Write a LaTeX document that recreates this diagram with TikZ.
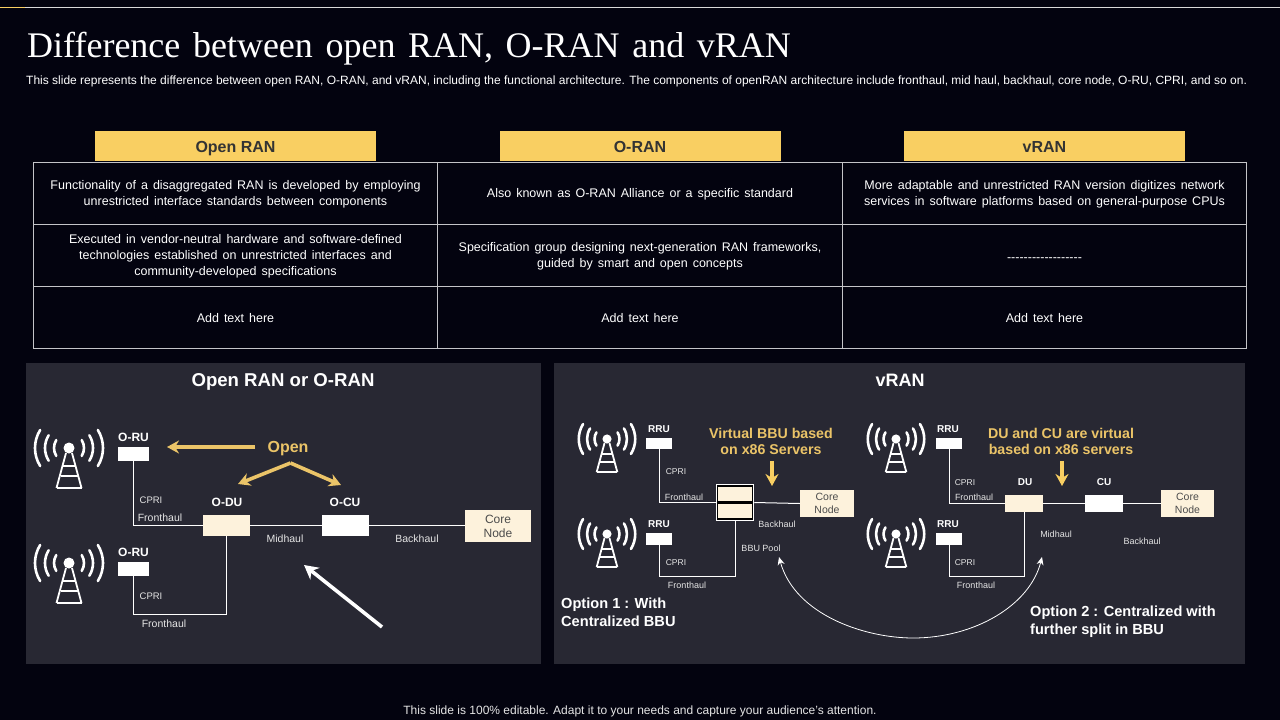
\documentclass[tikz,border=0pt]{standalone}
\usepackage{fontspec}
\setmainfont{Liberation Sans}
\newfontfamily\titlefont[WordSpace=1.4]{Liberation Serif}
\usepackage{xcolor}
\usetikzlibrary{arrows.meta}

\definecolor{slidebg}{HTML}{03030F}
\definecolor{panelbg}{HTML}{282833}
\definecolor{headgold}{HTML}{F9CF62}
\definecolor{textgold}{HTML}{EBC468}
\definecolor{cream}{HTML}{FDF2DC}
\definecolor{gridline}{HTML}{C4C4C8}

\newcommand{\fs}[1]{\fontsize{#1}{#1}\selectfont}
\newcommand{\cellstart}{\spaceskip=5pt\relax\rule{0pt}{12pt}}

\tikzset{
    headbox/.style={fill=headgold, text=black!80, font=\fs{16}\bfseries, minimum width=281, minimum height=30, inner sep=0, text height=13.5pt, text depth=0pt},
    cellbox/.style={draw=gridline, line width=1pt, text=white, font=\fontsize{12.5}{16}\selectfont, minimum width=404.5, minimum height=62, text width=392, align=center, inner sep=0},
    whitebox/.style={fill=white, inner sep=0},
    creambox/.style={fill=cream, inner sep=0},
    corebox/.style={fill=cream, text=black!70, align=center, inner sep=0, font=\fontsize{#1}{13.5}\selectfont},
    wire/.style={draw=white, line width=1pt},
    unitlabel/.style={text=white, font=\fs{#1}\bfseries, inner sep=0},
    smalllabel/.style={text=white!90!black, font=\fs{#1}, inner sep=0},
    paneltitle/.style={text=white, font=\fs{18.6}\bfseries, inner sep=0},
    goldtext/.style={text=textgold, font=\fontsize{14.2}{16}\selectfont\bfseries, align=center, inner sep=0},
    optiontext/.style={text=white, font=\fontsize{14.6}{18}\selectfont\bfseries, align=left, anchor=west, inner sep=0},
    goldarrow/.style={draw=textgold, line width=3.6pt, -{Stealth[length=12pt, width=13pt]}},
    mast/.pic={
        \foreach \rad in {15, 24, 34} {
            \draw[white, line width=2.6pt, line cap=round] (-32:\rad) arc[start angle=-32, end angle=32, radius=\rad];
            \draw[white, line width=2.6pt, line cap=round] (148:\rad) arc[start angle=148, end angle=212, radius=\rad];
        }
        \fill[white] (0,0) circle (5.5);
        \draw[white, line width=1.8pt] (-3,5) -- (-12.5,40);
        \draw[white, line width=1.8pt] (3,5) -- (12.5,40);
        \draw[white, line width=1.8pt] (-6,18) -- (6,18);
        \draw[white, line width=1.8pt] (-8.5,28) -- (8.5,28);
        \draw[white, line width=1.8pt] (-12.5,40) -- (12.5,40);
    }
}

\begin{document}
\begin{tikzpicture}[x=1pt, y=-1pt]
    \useasboundingbox (0,0) rectangle (1280,720);
    \fill[slidebg] (0,0) rectangle (1280,720);
    \draw[white!85!black, line width=0.8pt] (0,7) -- (1280,7);
    \draw[headgold, line width=0.8pt] (0,7) -- (25,7);

    \node[anchor=west, text=white, inner sep=0, font=\titlefont\fs{36}] (title) at (27,49) {Difference between open RAN, O-RAN and vRAN};
    \node[anchor=west, text=white, inner sep=0, font=\fs{12}] (subtitle) at (26,81) {This slide represents the difference between open RAN, O-RAN, and vRAN, including the functional architecture. The components of openRAN architecture include fronthaul, mid haul, backhaul, core node, O-RU, CPRI, and so on.};

    % table
    \node[headbox] (headopen) at (235.5,146) {Open RAN};
    \node[headbox] (headoran) at (640,146) {O-RAN};
    \node[headbox] (headvran) at (1044.5,146) {vRAN};

    \node[cellbox] (cella1) at (235.5,193) {\cellstart Functionality of a disaggregated RAN is developed by employing\\unrestricted interface standards between components};
    \node[cellbox] (cellb1) at (640,193) {\cellstart Also known as O-RAN Alliance or a specific standard};
    \node[cellbox] (cellc1) at (1044.5,193) {\cellstart More adaptable and unrestricted RAN version digitizes network\\services in software platforms based on general-purpose CPUs};
    \node[cellbox] (cella2) at (235.5,255) {\cellstart Executed in vendor-neutral hardware and software-defined\\technologies established on unrestricted interfaces and\\community-developed specifications};
    \node[cellbox] (cellb2) at (640,255) {\cellstart Specification group designing next-generation RAN frameworks,\\guided by smart and open concepts};
    \node[cellbox] (cellc2) at (1044.5,255) {\cellstart -{}-{}-{}-{}-{}-{}-{}-{}-{}-{}-{}-{}-{}-{}-{}-{}-{}-{}};
    \node[cellbox] (cella3) at (235.5,317) {\cellstart Add text here};
    \node[cellbox] (cellb3) at (640,317) {\cellstart Add text here};
    \node[cellbox] (cellc3) at (1044.5,317) {\cellstart Add text here};

    % left panel
    \fill[panelbg] (26,363) rectangle (541,664);
    \node[paneltitle] (lefttitle) at (283,382) {Open RAN or O-RAN};

    \pic at (69,448) {mast};
    \pic at (69,563) {mast};

    \node[whitebox, minimum width=31, minimum height=14] (oru1) at (133.5,454) {};
    \node[whitebox, minimum width=31, minimum height=14] (oru2) at (133.5,569) {};
    \node[creambox, minimum width=47, minimum height=21] (odu) at (226.5,525.5) {};
    \node[whitebox, minimum width=47, minimum height=21] (ocu) at (345.5,525.5) {};
    \node[corebox=12, minimum width=66, minimum height=32] (core1) at (498,525.5) {\rule{0pt}{10.5pt}Core\\Node};
    \coordinate (bendleft) at (133.5,614);

    \draw[wire] (oru1.south) |- (odu.west);
    \draw[wire] (odu.east) -- (ocu.west);
    \draw[wire] (ocu.east) -- (core1.west);
    \draw[wire] (odu.south) |- (bendleft) -- (oru2.south);

    \node[unitlabel=12] (lblru1) at (133.5,437) {O-RU};
    \node[unitlabel=12] (lblru2) at (133.5,552) {O-RU};
    \node[unitlabel=12] (lbldu) at (227,502) {O-DU};
    \node[unitlabel=12] (lblcu) at (345,502) {O-CU};
    \node[smalllabel=9.5] (cpri1) at (151,500) {CPRI};
    \node[smalllabel=9.5] (cpri2) at (151,596) {CPRI};
    \node[smalllabel=10.5] (front1) at (160,518) {Fronthaul};
    \node[smalllabel=10.5] (front2) at (164,624) {Fronthaul};
    \node[smalllabel=10.5] (mid1) at (285,539) {Midhaul};
    \node[smalllabel=10.5] (back1) at (417,539) {Backhaul};

    \node[text=textgold, font=\fs{16}\bfseries, inner sep=0] (opentext) at (288,449) {Open};
    \coordinate (openapex) at (290.5,463);
    \coordinate (opentail) at (255,447);
    \coordinate (openhead) at (167,447);
    \coordinate (openleft) at (238,484);
    \coordinate (openright) at (341,485);
    \draw[goldarrow] (opentail) -- (openhead);
    \draw[goldarrow] (openapex) -- (openleft);
    \draw[goldarrow] (openapex) -- (openright);

    \coordinate (pointtail) at (382,627);
    \coordinate (pointhead) at (304,565);
    \draw[white, line width=3.6pt, -{Stealth[length=14pt, width=15pt]}] (pointtail) -- (pointhead);

    % right panel
    \fill[panelbg] (554,363) rectangle (1245,664);
    \node[paneltitle, font=\fs{18}\bfseries] (righttitle) at (900,380) {vRAN};

    \pic[scale=.83] at (607,439) {mast};
    \pic[scale=.83] at (607,534) {mast};
    \pic[scale=.83] at (896,439) {mast};
    \pic[scale=.83] at (896,534) {mast};

    % option 1
    \node[whitebox, minimum width=26, minimum height=11] (rrua) at (659,443.5) {};
    \node[whitebox, minimum width=26, minimum height=12] (rrub) at (659,539) {};
    \node[draw=white, line width=1.5pt, fill=black, minimum width=37, minimum height=36, inner sep=0] (pool) at (735,502.5) {};
    \node[creambox, minimum width=34, minimum height=14] (poolup) at (735,494) {};
    \node[creambox, minimum width=34, minimum height=14] (pooldown) at (735,511) {};
    \node[corebox=10.5, minimum width=54, minimum height=27] (core2) at (827,503.5) {Core\\Node};
    \coordinate (benda) at (659,576);

    \draw[wire] (rrua.south) |- (pool.west);
    \draw[wire] (pool.east) -- (core2.west);
    \draw[wire] (pool.south) |- (benda) -- (rrub.south);

    \node[unitlabel=10] (lblrrua) at (659,429) {RRU};
    \node[unitlabel=10] (lblrrub) at (659,524) {RRU};
    \node[smalllabel=8.5] (cpria) at (676,472) {CPRI};
    \node[smalllabel=8.5] (cprib) at (676,563) {CPRI};
    \node[smalllabel=9] (fronta) at (684,497) {Fronthaul};
    \node[smalllabel=9] (frontb) at (687,585) {Fronthaul};
    \node[smalllabel=9] (back2) at (777,524) {Backhaul};
    \node[smalllabel=9] (poollbl) at (761,548) {BBU Pool};
    \node[goldtext] (virtbbu) at (771,441.5) {Virtual BBU based\\on x86 Servers};
    \coordinate (bbutail) at (772,461);
    \coordinate (bbuhead) at (772,486);
    \draw[headgold, line width=3.6pt, -{Stealth[length=12pt, width=13pt]}] (bbutail) -- (bbuhead);
    \node[optiontext] (opt1) at (561,612.5) {Option 1 : With\\Centralized BBU};

    % option 2
    \node[whitebox, minimum width=26, minimum height=11] (rruc) at (949,443.5) {};
    \node[whitebox, minimum width=26, minimum height=12] (rrud) at (949,539) {};
    \node[creambox, minimum width=38, minimum height=17] (du) at (1024,503.5) {};
    \node[whitebox, minimum width=38, minimum height=17] (cu) at (1104,503.5) {};
    \node[corebox=10.5, minimum width=53, minimum height=27] (core3) at (1187.5,503.5) {Core\\Node};
    \coordinate (bendc) at (949,576);

    \draw[wire] (rruc.south) |- (du.west);
    \draw[wire] (du.east) -- (cu.west);
    \draw[wire] (cu.east) -- (core3.west);
    \draw[wire] (du.south) |- (bendc) -- (rrud.south);

    \node[unitlabel=10] (lblrruc) at (948,429) {RRU};
    \node[unitlabel=10] (lblrrud) at (948,524) {RRU};
    \node[unitlabel=10] (lbldu2) at (1025,482) {DU};
    \node[unitlabel=10] (lblcu2) at (1104,482) {CU};
    \node[smalllabel=8.5] (cpric) at (965,483) {CPRI};
    \node[smalllabel=8.5] (cprid) at (965,563) {CPRI};
    \node[smalllabel=9] (frontc) at (974,497) {Fronthaul};
    \node[smalllabel=9] (frontd) at (976,585) {Fronthaul};
    \node[smalllabel=9] (mid2) at (1056,534) {Midhaul};
    \node[smalllabel=9] (back3) at (1142,541) {Backhaul};
    \node[goldtext] (virtdu) at (1061,441.5) {DU and CU are virtual\\based on x86 servers};
    \coordinate (dutail) at (1062,461);
    \coordinate (duhead) at (1062,486);
    \draw[headgold, line width=3.6pt, -{Stealth[length=12pt, width=13pt]}] (dutail) -- (duhead);
    \node[optiontext] (opt2) at (1030,622) {Option 2 : Centralized with\\further split in BBU};

    \coordinate (poolend) at (779,557);
    \coordinate (midend) at (1042,557);
    \draw[white, line width=.8pt, {Stealth[length=8pt, width=7pt]}-{Stealth[length=8pt, width=7pt]}] (poolend) .. controls (795,615) and (865,638) .. (913,638) .. controls (975,638) and (1030,605) .. (midend);

    \node[text=white!90!black, font=\fs{12}, inner sep=0] (footer) at (640,711) {This slide is 100\% editable. Adapt it to your needs and capture your audience's attention.};
\end{tikzpicture}
\end{document}
